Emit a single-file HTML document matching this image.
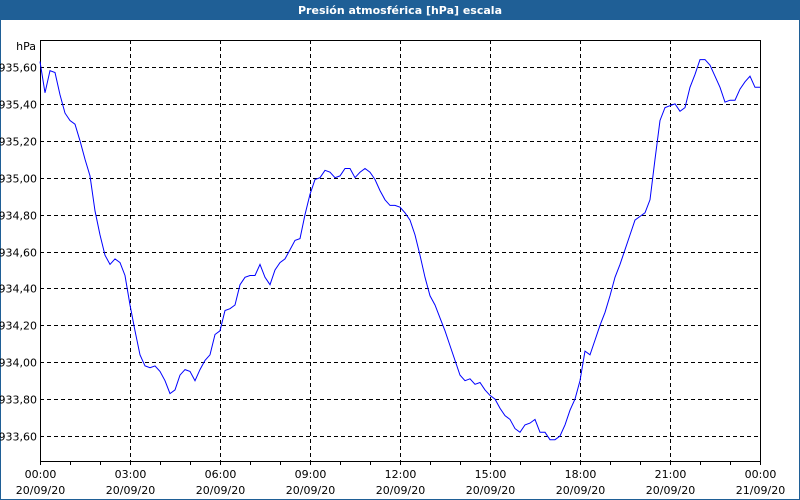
<!DOCTYPE html>
<html><head><meta charset="utf-8"><style>
body{margin:0;width:800px;height:500px;overflow:hidden;background:#fff;font-family:"DejaVu Sans","Liberation Sans",sans-serif}
#wrap{position:relative;width:798px;height:499px;border-left:1px solid #1f5f96;border-right:1px solid #1f5f96;border-bottom:1px solid #1f5f96}
#title{height:20px;background:#1f5f96;color:#fff;font-weight:bold;font-size:11px;text-align:center;line-height:21px}
</style></head><body>
<div id="wrap">
<div id="title">Presión atmosférica [hPa] escala</div>
<svg id="chart" width="800" height="480" style="position:absolute;left:-1px;top:20px"></svg>
</div>
<script>
const values=[935.63,935.46,935.58,935.57,935.45,935.35,935.31,935.29,935.20,935.10,935.01,934.82,934.69,934.58,934.53,934.56,934.54,934.47,934.31,934.17,934.04,933.98,933.97,933.98,933.95,933.90,933.83,933.85,933.93,933.96,933.95,933.90,933.96,934.01,934.04,934.15,934.17,934.28,934.29,934.31,934.42,934.46,934.47,934.47,934.53,934.46,934.42,934.50,934.54,934.56,934.61,934.66,934.67,934.80,934.91,934.99,935.00,935.04,935.03,935.00,935.01,935.05,935.05,935.00,935.03,935.05,935.03,934.99,934.93,934.88,934.85,934.85,934.84,934.81,934.77,934.69,934.58,934.46,934.36,934.31,934.24,934.17,934.09,934.01,933.93,933.90,933.91,933.88,933.89,933.85,933.82,933.80,933.75,933.71,933.69,933.64,933.62,933.66,933.67,933.69,933.62,933.62,933.58,933.58,933.60,933.66,933.74,933.80,933.90,934.06,934.04,934.12,934.20,934.27,934.36,934.46,934.53,934.61,934.69,934.77,934.79,934.81,934.88,935.10,935.31,935.38,935.39,935.40,935.36,935.38,935.49,935.56,935.64,935.64,935.61,935.55,935.49,935.41,935.42,935.42,935.48,935.52,935.55,935.49,935.49];
const yTicks=[935.60,935.40,935.20,935.00,934.80,934.60,934.40,934.20,934.00,933.80,933.60];
const xTimes=["00:00","03:00","06:00","09:00","12:00","15:00","18:00","21:00","00:00"];
const xDates=["20/09/20","20/09/20","20/09/20","20/09/20","20/09/20","20/09/20","20/09/20","20/09/20","21/09/20"];
const stepMin=10;
const svg=document.getElementById('chart');
const NS='http://www.w3.org/2000/svg';
const L=40,R=760,T=20,B=441;
const yS=v=>T+27+(935.60-v)*184.5;
const xS=m=>L+m/1440*(R-L);
function mk(t,a){const e=document.createElementNS(NS,t);for(const k in a)e.setAttribute(k,a[k]);svg.appendChild(e);return e;}
yTicks.forEach(v=>{
 const y=Math.round(yS(v))+0.5;
 const g=mk('line',{x1:L,x2:R,y1:y,y2:y,stroke:'#000','stroke-dasharray':'4,3','stroke-width':1});
 
 
 const t=mk('text',{x:L-3,y:y+4,'text-anchor':'end','font-size':11,fill:'#000'});
 t.textContent=v.toFixed(2).replace('.',',');
 
 
});
xTimes.forEach((s,i)=>{
 const x=Math.round(xS(i*180))+0.5;
 if(i>0&&i<8){const g=mk('line',{x1:x,x2:x,y1:T,y2:B,stroke:'#000','stroke-dasharray':'4,3'});
 
 }
 const t=mk('text',{x:x,y:B+17,'text-anchor':'middle','font-size':11,fill:'#000'});
 t.textContent=s;
 
 
 const d=mk('text',{x:x,y:B+33,'text-anchor':'middle','font-size':11,fill:'#000'});
 d.textContent=xDates[i];
 
 
});
for(let m=0;m<=1440;m+=60){const x=Math.round(xS(m))+0.5;
 const k=mk('line',{x1:x,x2:x,y1:B,y2:B+4,stroke:'#000'});
 
 }
const f=mk('rect',{x:L+0.5,y:T+0.5,width:R-L,height:B-T,fill:'none',stroke:'#000'});


const u=mk('text',{x:L-4,y:T+10,'text-anchor':'end','font-size':11,fill:'#000'});
u.textContent='hPa';


const pts=values.map((v,i)=>xS(i*stepMin).toFixed(1)+','+yS(v).toFixed(1)).join(' ');
const p=mk('polyline',{points:pts,fill:'none',stroke:'#0000ff','stroke-width':1});


</script>
</body></html>
